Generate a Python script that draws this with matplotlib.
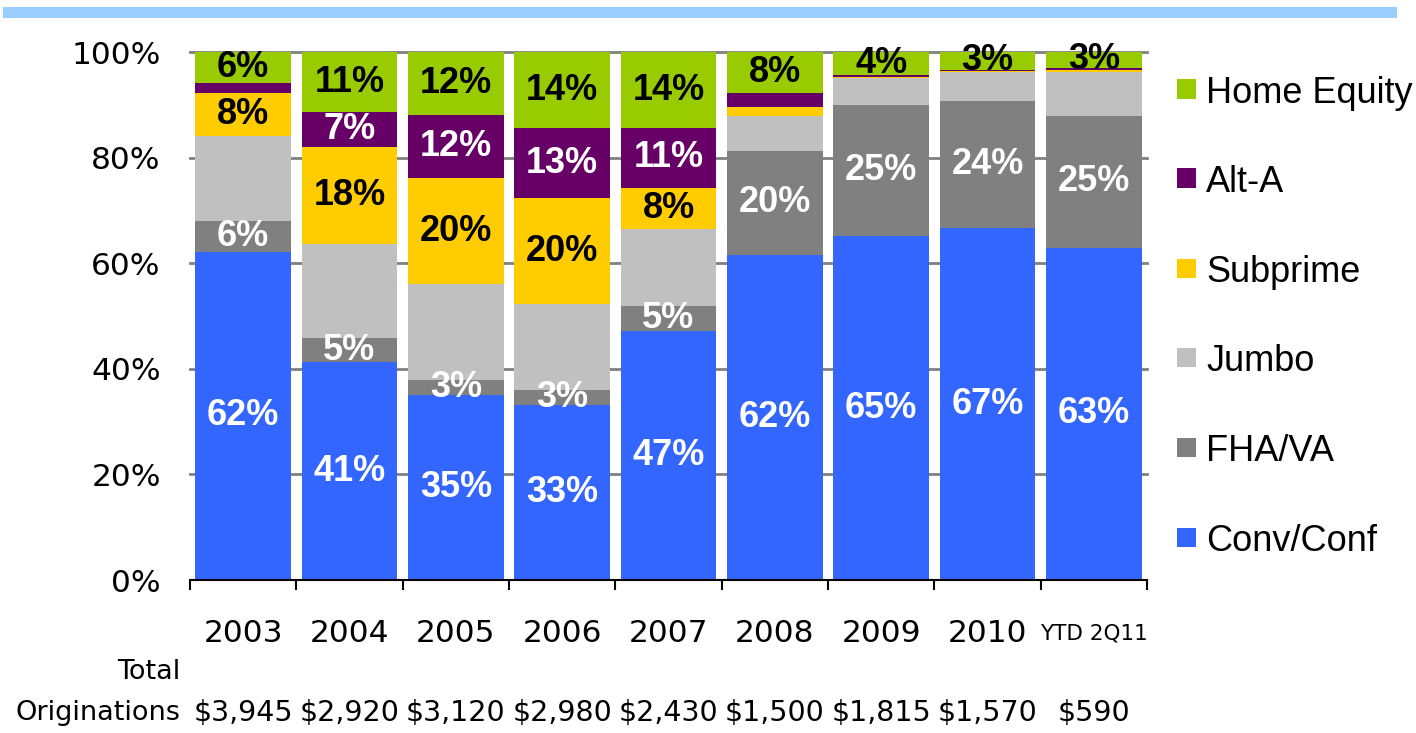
import matplotlib
matplotlib.use("Agg")
import matplotlib.pyplot as plt
from matplotlib.patches import Rectangle
import numpy as np

categories = ["2003", "2004", "2005", "2006", "2007", "2008", "2009", "2010", "YTD 2Q11"]
totals = ["$3,945", "$2,920", "$3,120", "$2,980", "$2,430", "$1,500", "$1,815", "$1,570", "$590"]

series_names = ["Conv/Conf", "FHA/VA", "Jumbo", "Subprime", "Alt-A", "Home Equity"]
conv_conf   = [62.2, 41.2, 35.0, 33.1, 47.2, 61.6, 65.1, 66.6, 62.9]
fha_va      = [5.7, 4.7, 2.8, 2.8, 4.7, 19.7, 24.9, 24.1, 25.0]
jumbo       = [16.2, 17.7, 18.2, 16.3, 14.5, 6.5, 5.0, 5.5, 8.4]
subprime    = [8.2, 18.4, 20.1, 20.1, 7.9, 1.7, 0.3, 0.2, 0.3]
alt_a       = [1.9, 6.6, 12.0, 13.3, 11.3, 2.7, 0.4, 0.2, 0.4]
home_equity = [5.8, 11.4, 11.9, 14.4, 14.4, 7.8, 4.3, 3.4, 3.0]

series = [conv_conf, fha_va, jumbo, subprime, alt_a, home_equity]
colors = ["#3366FF", "#808080", "#C0C0C0", "#FFCC00", "#660066", "#99CC00"]
label_colors = ["white", "white", None, "black", "white", "black"]

W, H = 1416, 733
fig = plt.figure(figsize=(W / 100, H / 100), dpi=100)
ax = fig.add_axes([190 / W, 1 - 580 / H, (1147 - 190) / W, (580 - 52) / H])

# top band
fig.patches.append(Rectangle((3 / W, 1 - 18 / H), (1397 - 3) / W, 11 / H,
                             transform=fig.transFigure, facecolor="#99CCFF",
                             edgecolor="none"))

x = np.arange(len(categories))
bottom = np.zeros(len(categories))
for vals, col, lc in zip(series, colors, label_colors):
    vals = np.array(vals)
    ax.bar(x, vals, bottom=bottom, width=0.9, color=col, zorder=2, linewidth=0)
    if lc is not None:
        for xi, v, b in zip(x, vals, bottom):
            if v >= 2.75:
                ax.text(xi, b + v / 2, f"{round(v):d}%", ha="center", va="center",
                        color=lc, fontsize=26, fontweight="bold",
                        family="Liberation Sans", zorder=5, clip_on=False)
    bottom += vals

ax.set_xlim(-0.5, len(categories) - 0.5)
ax.set_ylim(0, 100)

yt = [0, 20, 40, 60, 80, 100]
for v in yt[1:]:
    ax.axhline(v, color="#808080", lw=2.0, zorder=0.5, clip_on=False)
ax.set_yticks(yt)
ax.set_yticklabels([f"{v}%" for v in yt], family="DejaVu Sans", fontsize=22.5)
ax.tick_params(axis="y", length=0, pad=21)

ax.set_xticks(np.arange(-0.5, len(categories), 1.0))
ax.set_xticklabels([])
ax.tick_params(axis="x", direction="out", length=7.5, width=1.5, color="black")

for s in ["left", "right", "top"]:
    ax.spines[s].set_visible(False)
ax.spines["bottom"].set_linewidth(1.5)
ax.spines["bottom"].set_color("black")
ax.spines["bottom"].set_zorder(3)

tr = ax.get_xaxis_transform()
for xi, cat, tot in zip(x, categories, totals):
    fs = 15.5 if cat.startswith("YTD") else 22.5
    ax.text(xi, -53 / 528, cat, transform=tr, ha="center", va="center",
            fontsize=fs, family="DejaVu Sans")
    ax.text(xi, -133 / 528, tot, transform=tr, ha="center", va="center",
            fontsize=20.5, family="DejaVu Sans")
ax.text(-10 / 957, -92 / 528, "Total", transform=ax.transAxes, ha="right",
        va="center", fontsize=19.5, family="DejaVu Sans")
ax.text(-10 / 957, -133 / 528, "Originations", transform=ax.transAxes, ha="right",
        va="center", fontsize=19.5, family="DejaVu Sans")

# legend (top to bottom: reverse stacking order)
leg_y = [89, 178, 268, 357, 447, 537]
for name, col, py in zip(series_names[::-1], colors[::-1], leg_y):
    fig.patches.append(Rectangle((1177 / W, 1 - (py + 9.5) / H), 19 / W, 19 / H,
                                 transform=fig.transFigure, facecolor=col,
                                 edgecolor="none"))
    fig.text(1206 / W, 1 - (py + 14) / H, name, ha="left", va="baseline",
             fontsize=26, family="Liberation Sans")

fig.savefig("out.png", dpi=100)
